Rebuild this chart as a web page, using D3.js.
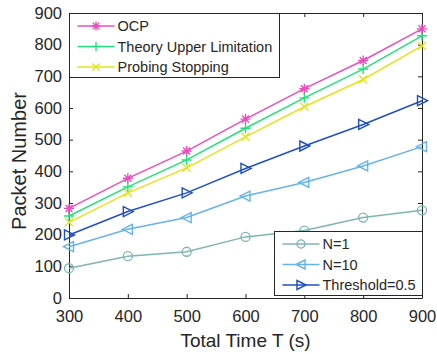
<!DOCTYPE html>
<html>
<head>
<meta charset="utf-8">
<script src="https://cdn.jsdelivr.net/npm/d3@7"></script>
<style>
  body { margin: 0; background: #fff; }
  text { font-family: "Liberation Sans", Arial, sans-serif; fill: #262626; }
</style>
</head>
<body>
<svg id="chart" width="437" height="354"></svg>
<script>
// data
var times = [300, 400, 500, 600, 700, 800, 900];
var ocp = [283, 378, 464, 565, 661, 750, 850];
var theory = [259, 351, 436, 536, 632, 723, 828];
var probing = [239, 332, 411, 509, 604, 690, 796];
var n1 = [94, 132, 146, 193, 213, 254, 277];
var n10 = [162, 217, 254, 322, 365, 417, 478];
var thresh = [199, 273, 332, 409, 480, 548, 623];
var xTicks = [300, 400, 500, 600, 700, 800, 900];
var yTicks = [0, 100, 200, 300, 400, 500, 600, 700, 800, 900];

var series = [
  { name: "OCP", values: ocp, color: "#e94fbd", marker: "star" },
  { name: "Theory Upper Limitation", values: theory, color: "#22e27c", marker: "plus" },
  { name: "Probing Stopping", values: probing, color: "#e6e21e", marker: "cross" },
  { name: "N=1", values: n1, color: "#7db6b2", marker: "circle" },
  { name: "N=10", values: n10, color: "#66b3ea", marker: "left" },
  { name: "Threshold=0.5", values: thresh, color: "#1f4fc0", marker: "right" }
];

var margin = { top: 13, right: 15, bottom: 56, left: 69 };
var svg = d3.select("#chart");
var width = 437 - margin.left - margin.right;
var height = 354 - margin.top - margin.bottom;

var g = svg.append("g").attr("transform", "translate(" + margin.left + "," + margin.top + ")");

var x = d3.scaleLinear().domain([300, 900]).range([0, width]);
var y = d3.scaleLinear().domain([0, 900]).range([height, 0]);

// axes with inward ticks, like matlab
g.append("g").attr("transform", "translate(0," + height + ")")
  .call(d3.axisBottom(x).tickValues(xTicks).tickSize(-4).tickSizeOuter(0).tickPadding(12));
g.append("g")
  .call(d3.axisLeft(y).tickValues(yTicks).tickSize(-4).tickSizeOuter(0).tickPadding(7));
g.append("g")
  .call(d3.axisTop(x).tickValues(xTicks).tickSize(-4).tickSizeOuter(0).tickFormat(""));
g.append("g").attr("transform", "translate(" + width + ",0)")
  .call(d3.axisRight(y).tickValues(yTicks).tickSize(-4).tickSizeOuter(0).tickFormat(""));

g.selectAll(".domain").attr("stroke", "#262626");
g.selectAll(".tick line").attr("stroke", "#262626");
g.selectAll(".tick text").style("font-size", "16.5px").style("fill", "#262626");

// axis labels
svg.append("text")
  .attr("x", margin.left + width / 2)
  .attr("y", 347)
  .attr("text-anchor", "middle")
  .style("font-size", "19px")
  .text("Total Time T (s)");

svg.append("text")
  .attr("transform", "translate(26,161) rotate(-90)")
  .attr("text-anchor", "middle")
  .style("font-size", "20px")
  .text("Packet Number");

function drawMarker(sel, type, color, s) {
  var st = { stroke: color, w: 1.4 };
  var p;
  if (type == "star") {
    var d = s * 0.7;
    p = "M" + (-s) + ",0H" + s + "M0," + (-s) + "V" + s +
      "M" + (-d) + "," + (-d) + "L" + d + "," + d +
      "M" + (-d) + "," + d + "L" + d + "," + (-d);
  } else if (type == "plus") {
    p = "M" + (-s) + ",0H" + s + "M0," + (-s) + "V" + s;
  } else if (type == "cross") {
    var c = s * 0.8;
    p = "M" + (-c) + "," + (-c) + "L" + c + "," + c + "M" + (-c) + "," + c + "L" + c + "," + (-c);
  } else if (type == "left") {
    p = "M" + (-s * 1.1) + ",0L" + (s * 0.9) + "," + (-s) + "L" + (s * 0.9) + "," + s + "Z";
  } else if (type == "right") {
    p = "M" + (s * 1.1) + ",0L" + (-s * 0.9) + "," + (-s) + "L" + (-s * 0.9) + "," + s + "Z";
  }
  if (type == "circle") {
    sel.append("circle").attr("r", s * 0.9)
      .attr("stroke", color).attr("stroke-width", 1.3).attr("fill", "none");
  } else {
    sel.append("path").attr("d", p)
      .attr("stroke", st.stroke).attr("stroke-width", st.w).attr("fill", "none");
  }
}

var line = d3.line()
  .x(function(d) { return x(d.t); })
  .y(function(d) { return y(d.v); });

// draw from bottom series up so ocp ends on top
for (var i = series.length - 1; i >= 0; i--) {
  var s = series[i];
  var pts = times.map(function(t, j) { return { t: t, v: s.values[j] }; });
  g.append("path").datum(pts)
    .attr("fill", "none")
    .attr("stroke", s.color)
    .attr("stroke-width", 1.5)
    .attr("d", line);
  pts.forEach(function(p) {
    var m = g.append("g").attr("transform", "translate(" + x(p.t) + "," + y(p.v) + ")");
    drawMarker(m, s.marker, s.color, 5);
  });
}

// legends
function legend(items, lx, ly, w, h) {
  var lg = svg.append("g").attr("transform", "translate(" + lx + "," + ly + ")");
  lg.append("rect").attr("width", w).attr("height", h)
    .attr("fill", "#fff").attr("stroke", "#262626").attr("stroke-width", 1);
  items.forEach(function(s, k) {
    var yy = 12.5 + k * 20.5;
    lg.append("line").attr("x1", 8).attr("x2", 45).attr("y1", yy).attr("y2", yy)
      .attr("stroke", s.color).attr("stroke-width", 1.5);
    var m = lg.append("g").attr("transform", "translate(26.5," + yy + ")");
    drawMarker(m, s.marker, s.color, 4.5);
    lg.append("text").attr("x", 48).attr("y", yy + 5)
      .style("font-size", "14.5px")
      .text(s.name);
  });
}
legend(series.slice(0, 3), 69.5, 13.5, 210, 64);
legend(series.slice(3), 274.5, 231.5, 148, 64);
</script>
</body>
</html>
